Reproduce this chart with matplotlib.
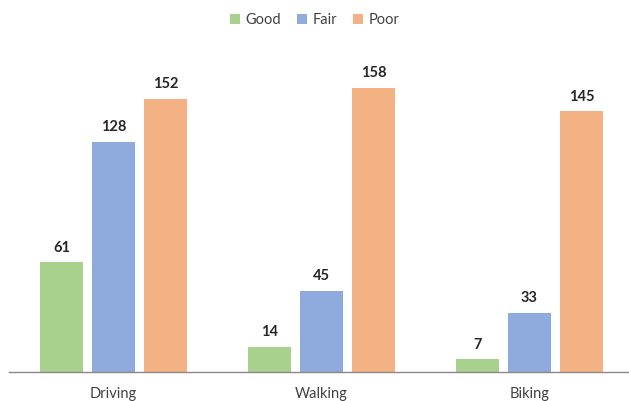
import numpy as np
import matplotlib.pyplot as plt
from matplotlib.patches import Patch

plt.rcParams['font.family'] = ['Lato', 'DejaVu Sans']

# Data
modes = ['Driving', 'Walking', 'Biking']
good = [61, 14, 7]
fair = [128, 45, 33]
poor = [152, 158, 145]

series = [('Good', good, '#A9D18E'),
          ('Fair', fair, '#8FAADC'),
          ('Poor', poor, '#F4B183')]

fig = plt.figure(figsize=(6.29, 4.01), dpi=100)
# baseline at y=372 px, category line running from x=9 px to the right edge
ax = fig.add_axes([9 / 629, 29 / 401, 620 / 629, 332 / 401])

x = np.arange(len(modes))
width = 0.202
offset = 0.25

for i, (name, vals, color) in enumerate(series):
    pos = x + (i - 1) * offset
    bars = ax.bar(pos, vals, width, color=color, label=name)
    for b, v in zip(bars, vals):
        ax.annotate(str(v), (b.get_x() + b.get_width() / 2, v),
                    xytext=(0, 5.5), textcoords='offset points',
                    ha='center', va='bottom', fontsize=10.5,
                    fontweight='bold', color='#262626')

# one category = 208 px, first group centred at 113.5 px
px = 1 / 208
ax.set_xlim((9 - 113.5) * px, (629 - 113.5) * px)
ax.set_ylim(0, 332 / 1.797)

ax.set_xticks(x)
ax.set_xticklabels(modes, fontsize=10.5, color='#404040')
ax.tick_params(axis='x', length=0, pad=11)
ax.set_yticks([])

for side in ['top', 'right', 'left']:
    ax.spines[side].set_visible(False)
ax.spines['bottom'].set_color('#898989')
ax.spines['bottom'].set_linewidth(1.0)

handles = [Patch(facecolor=c, label=n) for n, _, c in series]
fig.legend(handles=handles, loc='upper center', bbox_to_anchor=(0.5, 1.0),
           ncol=3, frameon=False, fontsize=10.5, handlelength=0.7,
           handleheight=0.7, handletextpad=0.35, columnspacing=1.1,
           labelcolor='#404040')

fig.savefig('out.png', dpi=100)
